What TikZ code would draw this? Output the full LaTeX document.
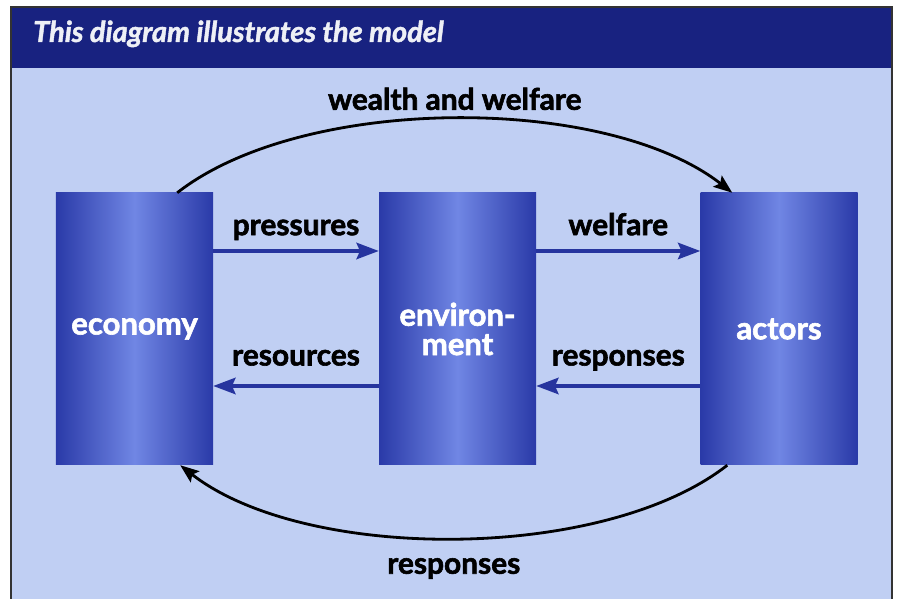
\documentclass[tikz,border=0pt]{standalone}
\usepackage{fontspec}
\setmainfont{Lato}[BoldFeatures={FakeBold=2}, BoldItalicFeatures={FakeBold=1.5}]
\usetikzlibrary{arrows.meta,positioning,calc}
\definecolor{paneblue}{RGB}{192,207,243}
\definecolor{headnavy}{RGB}{24,34,128}
\definecolor{boxdark}{RGB}{42,58,168}
\definecolor{boxlight}{RGB}{112,134,228}
\definecolor{flowblue}{RGB}{38,52,158}
\begin{document}
\begin{tikzpicture}[x=0.03cm, y=0.03cm,
    block/.style={rectangle, minimum width=4.71cm, minimum height=8.16cm, inner sep=0pt,
        left color=boxdark, right color=boxdark, middle color=boxlight,
        text=white, align=center, font=\fontsize{26.5}{25}\selectfont\bfseries},
    lbl/.style={text=black, inner sep=3pt, text height=0.72em, text depth=0.2em,
        font=\fontsize{25.5}{26}\selectfont\bfseries},
    flow/.style={draw=flowblue, line width=3pt, -{Stealth[length=19pt, width=14pt, inset=3pt]}},
    loopline/.style={draw=black, line width=2.4pt, -{Stealth[length=16pt, width=12pt, inset=3pt]}}
]
    \useasboundingbox (0,0) rectangle (897,599);

    % Panel and title bar
    \fill[paneblue] (11,0) rectangle (892,592);
    \fill[headnavy] (11,531) rectangle (892,592);
    \draw[black!80, line width=1.5pt] (11,0) -- (11,592) -- (892,592) -- (892,0);
    \node[anchor=base west, inner sep=0pt, text={rgb,255:red,238;green,240;blue,246},
        font=\fontsize{24.7}{26}\selectfont\bfseries\itshape] (title) at (33,557) {This diagram illustrates the model};

    % Blocks
    \node[block] (econ) at (134.5,270) {economy};
    \node[block] (env) at (457.5,270) {environ-\\ment};
    \node[block] (actors) at (779,270) {actors};

    % Flows between blocks
    \draw[flow] ($(econ.east)+(0,78)$) -- node[lbl, above=7pt] {pressures} ($(env.west)+(0,78)$);
    \draw[flow] ($(env.west)+(0,-57)$) -- node[lbl, above=11pt] {resources} ($(econ.east)+(0,-57)$);
    \draw[flow] ($(env.east)+(0,78)$) -- node[lbl, above=7pt] {welfare} ($(actors.west)+(0,78)$);
    \draw[flow] ($(actors.west)+(0,-57)$) -- node[lbl, above=11pt] {responses} ($(env.east)+(0,-57)$);

    % Outer loop
    \draw[loopline] ($(econ.north east)+(-36,0)$) to[out=38, in=142, looseness=0.74]
        node[lbl, above=1.5pt] {wealth and welfare} ($(actors.north west)+(32,0)$);
    \draw[loopline] ($(actors.south west)+(27,0)$) to[out=-142, in=-38, looseness=0.74]
        node[lbl, below=19pt] {responses} ($(econ.south east)+(-33,0)$);
\end{tikzpicture}
\end{document}
